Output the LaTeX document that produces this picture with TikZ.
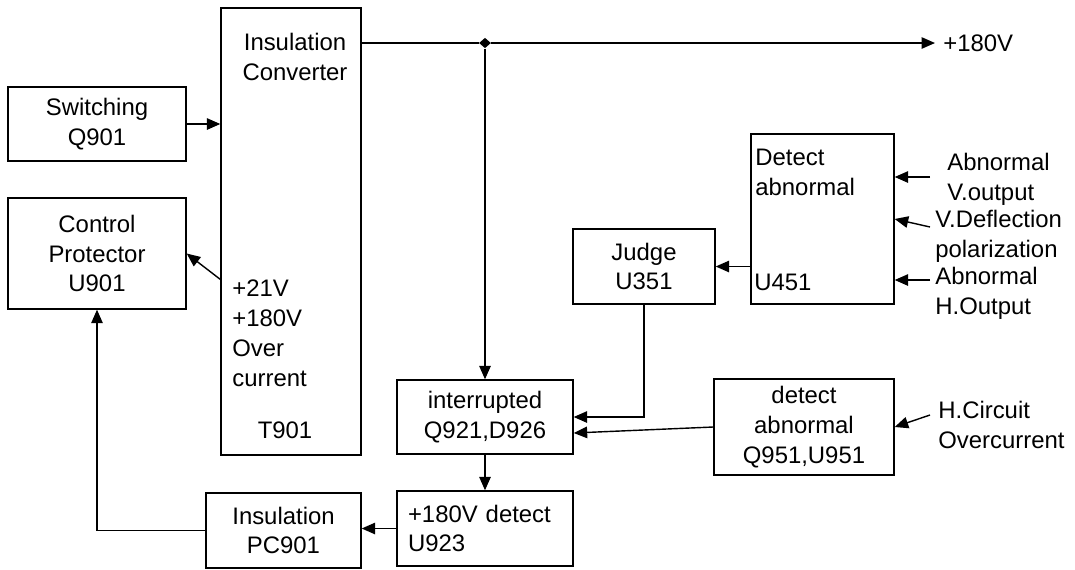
\documentclass[tikz,border=0pt]{standalone}
\usepackage{fontspec}
\setmainfont{Liberation Sans}
\usetikzlibrary{arrows.meta,shapes.geometric}
\newcommand{\blkfont}{\fontsize{13.6}{17}\selectfont}
\tikzset{
  blk/.style  = {draw, line width=0.8pt, align=center, inner sep=0pt, font=\blkfont},
  txt/.style  = {align=left, inner sep=0pt, font=\blkfont},
  sig/.style  = {-{Triangle[length=2.7mm,width=2.3mm]}, line width=0.8pt},
  wire/.style = {line width=0.8pt},
  junc/.style = {diamond, fill, inner sep=0pt, minimum width=2.4mm, minimum height=2.1mm},
}

\begin{document}
\begin{tikzpicture}[x=0.02cm, y=-0.02cm]
\useasboundingbox (0,0) rectangle (1075,569);

% ---- left column ----
\node[blk, minimum width=3.56cm, minimum height=1.48cm] (sw) at (97,124) {Switching\\Q901};
\node[blk, minimum width=3.56cm, minimum height=2.22cm] (ctl) at (97,253.5) {Control\\Protector\\U901};

% ---- insulation converter ----
\node[blk, minimum width=2.8cm, minimum height=8.94cm] (conv) at (291,231.5) {};
\node[txt, align=center] (convname) at (295,57) {Insulation\\Converter};
\node[txt, anchor=west] (volts) at (232,333) {+21V\\+180V\\Over\\current};
\node[txt] (tname) at (285,430) {T901};

% ---- protection chain ----
\node[blk, minimum width=3.52cm, minimum height=1.48cm] (intr) at (485,417) {interrupted\\Q921,D926};
\node[blk, text width=3.08cm, inner xsep=0.22cm, minimum height=1.5cm, align=left] (det) at (485,528.5) {+180V detect\\U923};
\node[blk, minimum width=3.1cm, minimum height=1.5cm] (pc) at (283.5,530.5) {Insulation\\PC901};
\node[blk, minimum width=2.84cm, minimum height=1.5cm] (judge) at (644,266.5) {Judge\\U351};
\node[blk, minimum width=2.86cm, minimum height=3.4cm] (abn) at (822.5,219) {};
\node[txt, anchor=west] (abnname) at (755,172) {Detect\\abnormal};
\node[txt, anchor=west] (uname) at (754,282) {U451};
\node[blk, minimum width=3.6cm, minimum height=1.92cm] (hdet) at (804,427) {detect\\abnormal\\Q951,U951};

% ---- outside signals ----
\node[junc] (j) at (485,43) {};
\node[txt, anchor=west] (v180) at (943,43) {+180V};
\node[txt, anchor=west] (vout) at (947,179) {Abnormal\\V.output};
\node[txt, anchor=west] (vdefl) at (935,236) {V.Deflection\\polarization};
\node[txt, anchor=west] (hout) at (935,293) {Abnormal\\H.Output};
\node[txt, anchor=west] (hcirc) at (938,425) {H.Circuit\\Overcurrent};
\coordinate (out) at (935,43);
\coordinate (vo) at (930,177);
\coordinate (vd) at (930,227);
\coordinate (ho) at (930,280);
\coordinate (hc) at (930,415);

% ---- connectors ----
\draw[wire] (conv.east |- j) -- (j);
\draw[sig] (j) -- (out);
\draw[sig] (j) -- (intr.north);
\draw[sig] (sw.east) -- (conv.west |- sw.east);
\draw[sig] (conv.west |- volts.north) -- (ctl.east);
\draw[sig] (vo) -- (abn.east |- vo);
\draw[sig] (vd) -- (abn.east);
\draw[sig] (ho) -- (abn.east |- ho);
\draw[sig] (abn.west |- judge.east) -- (judge.east);
\draw[sig] (judge.south) |- (intr.east);
\draw[sig] (hc) -- (hdet.east);
\draw[sig] (hdet.west) -- ([yshift=-0.32cm]intr.east);
\draw[sig] (intr.south) -- (det.north);
\draw[sig] (det.west) -- (pc.east |- det.west);
\draw[sig] (pc.west) -| (ctl.south);

\end{tikzpicture}
\end{document}
